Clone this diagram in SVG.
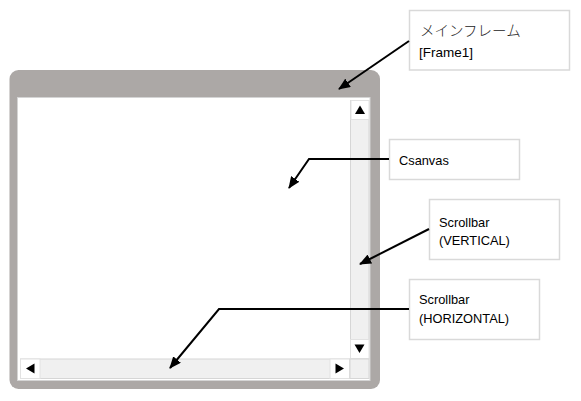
<svg xmlns="http://www.w3.org/2000/svg" width="581" height="401" viewBox="0 0 581 401">
<defs>
<marker id="ah" markerUnits="userSpaceOnUse" markerWidth="12" markerHeight="10" refX="11" refY="5" orient="auto">
<path d="M0,0 L12,5 L0,10 Z" fill="#000"/>
</marker>
<style>
.lbl{fill:#fff;stroke:#d9d9d9;stroke-width:1.5}
.t{font-family:"Liberation Sans",Arial,sans-serif;font-size:12.8px;fill:#000}
.track{fill:#f0f0f0;stroke:#d6d6d6;stroke-width:1}
.btn{fill:#fff;stroke:#e2e2e2;stroke-width:1}
.conn{fill:none;stroke:#000;stroke-width:2;marker-end:url(#ah)}
</style>
</defs>
<rect width="581" height="401" fill="#fff"/>
<g id="frame">
<rect x="9.5" y="70" width="370.5" height="319" rx="9" fill="#aca8a6"/>
<rect x="17.5" y="97.5" width="352.5" height="283" fill="#fff" stroke="#d4d4d4" stroke-width="1"/>
</g>
<g id="vscroll">
<rect class="track" x="350.5" y="100.5" width="18.5" height="258"/>
<rect class="btn" x="351" y="100.5" width="18" height="19"/>
<path d="M355,114 L365,114 L360,105.5 Z" fill="#000"/>
<rect class="btn" x="350.5" y="339.5" width="18.5" height="19"/>
<path d="M354.5,344.5 L364.5,344.5 L359.5,353 Z" fill="#000"/>
</g>
<g id="hscroll">
<rect class="track" x="20.5" y="359" width="329" height="19.5"/>
<rect class="btn" x="20.5" y="359" width="19.5" height="19.5"/>
<path d="M26,368.5 L34.5,363.5 L34.5,373.5 Z" fill="#000"/>
<rect class="btn" x="330" y="359" width="19.5" height="19.5"/>
<path d="M344,368.5 L335.5,363.5 L335.5,373.5 Z" fill="#000"/>
<rect class="track" x="350" y="359" width="19" height="19.5"/>
</g>
<g id="label-mainframe">
<rect class="lbl" x="409.5" y="10.5" width="160" height="59.5"/>
<text x="420" y="36" style="font-family:'Noto Sans CJK JP','Liberation Sans',sans-serif;font-size:14.5px;font-weight:300;fill:#222">メインフレーム</text>
<text class="t" x="419" y="57" style="font-size:13.5px">[Frame1]</text>
</g>
<g id="label-canvas">
<rect class="lbl" x="389.5" y="139.5" width="130" height="40"/>
<text class="t" x="399" y="165">Csanvas</text>
</g>
<g id="label-vscroll">
<rect class="lbl" x="429.5" y="199.5" width="130" height="60"/>
<text class="t" x="439" y="227">Scrollbar</text>
<text class="t" x="439" y="245">(VERTICAL)</text>
</g>
<g id="label-hscroll">
<rect class="lbl" x="409.5" y="279.5" width="130" height="60"/>
<text class="t" x="419" y="304">Scrollbar</text>
<text class="t" x="419" y="323">(HORIZONTAL)</text>
</g>
<g id="connectors">
<path class="conn" d="M409,41 L339,89"/>
<path class="conn" d="M389,159 L309,159 L289,188"/>
<path class="conn" d="M429,229 L360,264"/>
<path class="conn" d="M409,309 L219,309 L170,368"/>
</g>
</svg>
